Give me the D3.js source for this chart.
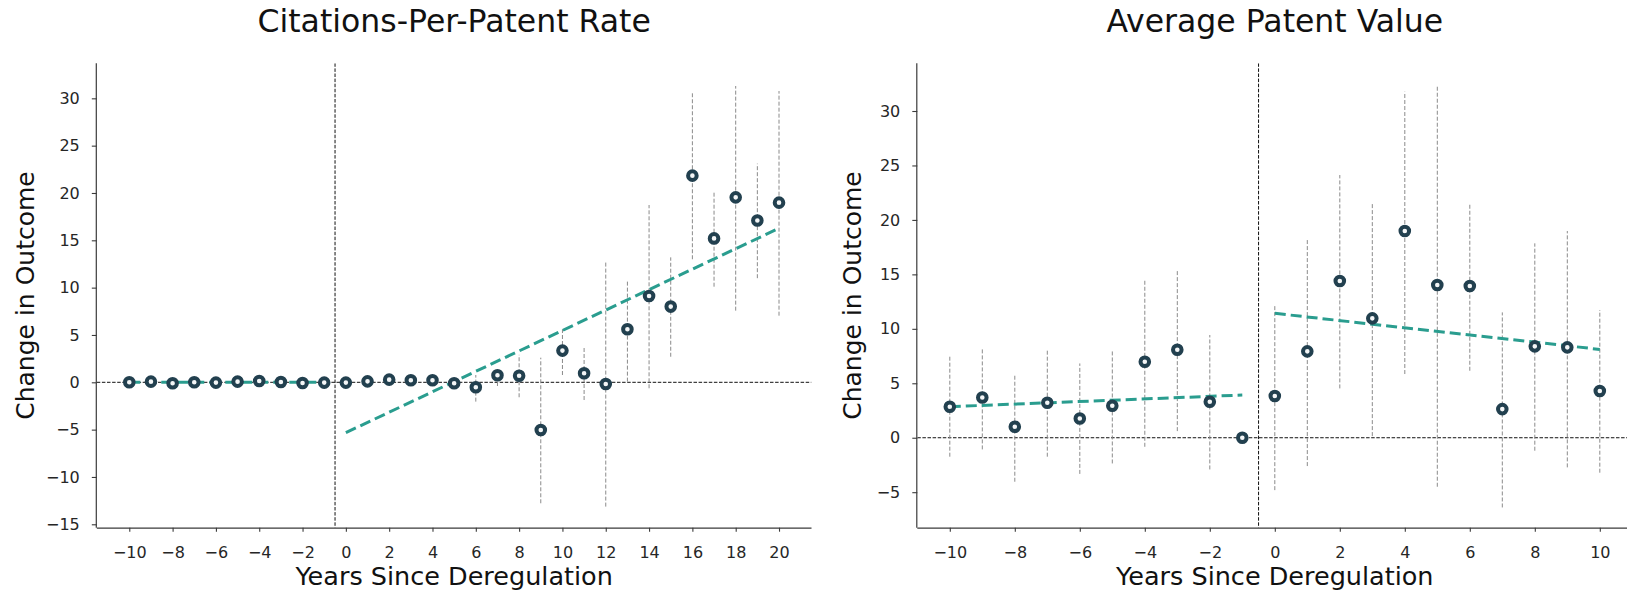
<!DOCTYPE html>
<html><head><meta charset="utf-8">
<script src="https://cdn.jsdelivr.net/npm/d3@7"></script>
<style>
body{margin:0;background:#fff;}
svg{display:block;font-family:"DejaVu Sans",sans-serif;}
</style>
</head><body>
<svg id="chart" width="1627" height="592"></svg>
<script>
// ---------- Panel 1: Citations-Per-Patent Rate ----------
const citYears  = [-10,-9,-8,-7,-6,-5,-4,-3,-2,-1,0,1,2,3,4,5,6,7,8,9,10,11,12,13,14,15,16,17,18,19,20];
const citValues = [0.0,0.07,-0.1,0.0,-0.03,0.07,0.14,0.03,-0.07,-0.03,-0.03,0.1,0.28,0.21,0.21,-0.1,-0.53,0.74,0.7,-5.04,3.35,0.95,-0.18,5.6,9.12,8.0,21.83,15.2,19.54,17.1,18.98];
const citLower  = [-0.1,-0.05,-0.2,-0.1,-0.12,-0.05,0.04,-0.07,-0.17,-0.13,-0.3,-0.2,-0.05,-0.15,-0.2,-0.5,-2.04,-0.39,-1.58,-12.78,0.77,-1.87,-13.13,0.07,-0.63,2.7,13.0,10.1,7.57,11.0,7.04];
const citUpper  = [0.1,0.19,0.0,0.1,0.06,0.19,0.24,0.13,0.03,0.07,0.24,0.4,0.6,0.57,0.62,0.3,0.77,1.48,2.9,2.6,5.6,3.7,12.75,10.8,18.73,13.2,30.53,20.1,31.3,23.1,30.77];
const citPreFitX  = [-10, -1];
const citPreFitY  = [0, 0];
const citPostFitX = [0, 20];
const citPostFitY = [-5.32, 16.27];
const citXTicks = [-10,-8,-6,-4,-2,0,2,4,6,8,10,12,14,16,18,20];
const citYTicks = [-15,-10,-5,0,5,10,15,20,25,30];

// ---------- Panel 2: Average Patent Value ----------
const valYears  = [-10,-9,-8,-7,-6,-5,-4,-3,-2,-1,0,1,2,3,4,5,6,7,8,9,10];
const valValues = [2.85,3.7,1.01,3.21,1.77,2.94,6.98,8.08,3.31,0.0,3.83,7.93,14.39,10.96,18.98,14.02,13.93,2.63,8.39,8.3,4.29];
const valLower  = [-1.74,-1.07,-4.04,-1.74,-3.32,-2.36,-0.83,0.61,-2.91,0.0,-4.81,-2.6,4.53,0.15,5.85,-4.5,6.15,-6.4,-1.19,-2.72,-3.21];
const valUpper  = [7.44,8.2,5.75,8.05,6.82,7.96,14.57,15.4,9.43,0.0,12.24,18.15,24.12,21.52,31.77,32.29,21.52,11.51,17.85,18.98,11.73];
const valPreFitX  = [-10, -1];
const valPreFitY  = [2.85, 3.92];
const valPostFitX = [0, 10];
const valPostFitY = [11.42, 8.11];
const valXTicks = [-10,-8,-6,-4,-2,0,2,4,6,8,10];
const valYTicks = [-5,0,5,10,15,20,25,30];

const titles = ["Citations-Per-Patent Rate", "Average Patent Value"];
const xLabel = "Years Since Deregulation";
const yLabel = "Change in Outcome";

// ---------- styles / layout ----------
const markerColor = "#22404f";
const fitColor = "#2a9d8f";
const errColor = "#8a8a8a";
const axisColor = "#3a3a3a";
const tickTextColor = "#262626";

const panels = [
  {title: titles[0], years: citYears, values: citValues, lower: citLower, upper: citUpper,
   fits: [[citPreFitX, citPreFitY], [citPostFitX, citPostFitY]],
   xTicks: citXTicks, yTicks: citYTicks,
   xDomain: [-11.5, 21.5], yDomain: [-15.36, 33.7],
   x0: 96.8, x1: 811.5, ylabX: 34},
  {title: titles[1], years: valYears, values: valValues, lower: valLower, upper: valUpper,
   fits: [[valPreFitX, valPreFitY], [valPostFitX, valPostFitY]],
   xTicks: valXTicks, yTicks: valYTicks,
   xDomain: [-11, 11], yDomain: [-8.26, 34.38],
   x0: 917.3, x1: 1632.3, ylabX: 861}
];
const yTop = 63.3, yBot = 527.7;

const svg = d3.select("#chart");

panels.forEach((p, i) => {
  const x = d3.scaleLinear().domain(p.xDomain).range([p.x0, p.x1]);
  const y = d3.scaleLinear().domain(p.yDomain).range([yBot, yTop]);
  const g = svg.append("g");
  const clipId = "clip" + i;
  svg.append("clipPath").attr("id", clipId).append("rect")
    .attr("x", p.x0).attr("y", yTop).attr("width", p.x1 - p.x0).attr("height", yBot - yTop);
  const plot = g.append("g").attr("clip-path", `url(#${clipId})`);

  // zero reference line
  plot.append("line")
    .attr("x1", p.x0).attr("x2", p.x1).attr("y1", y(0)).attr("y2", y(0))
    .attr("stroke", "#111").attr("stroke-width", 1).attr("stroke-dasharray", "3.5,1.6");
  // deregulation line
  plot.append("line")
    .attr("x1", x(-0.5)).attr("x2", x(-0.5)).attr("y1", yTop).attr("y2", yBot)
    .attr("stroke", "#111").attr("stroke-width", 1).attr("stroke-dasharray", "3.5,1.6");

  // error bars
  plot.selectAll(".err").data(p.years).enter().append("line")
    .attr("x1", d => x(d)).attr("x2", d => x(d))
    .attr("y1", (d, k) => y(p.lower[k])).attr("y2", (d, k) => y(p.upper[k]))
    .attr("stroke", errColor).attr("stroke-width", 1).attr("stroke-dasharray", "4,2");

  // fit lines
  const line = d3.line().x(d => x(d[0])).y(d => y(d[1]));
  p.fits.forEach(([fx, fy]) => {
    plot.append("path")
      .attr("d", line(fx.map((v, k) => [v, fy[k]])))
      .attr("fill", "none").attr("stroke", fitColor).attr("stroke-width", 3)
      .attr("stroke-dasharray", "11,5");
  });

  // markers
  plot.selectAll(".pt").data(p.years).enter().append("circle")
    .attr("cx", d => x(d)).attr("cy", (d, k) => y(p.values[k]))
    .attr("r", 4.3).attr("fill", "#f4f6f7")
    .attr("stroke", markerColor).attr("stroke-width", 4);

  // axes
  const xAxis = g.append("g").attr("transform", `translate(0,${yBot})`)
    .call(d3.axisBottom(x).tickValues(p.xTicks).tickSize(4).tickPadding(15).tickFormat(d3.format("")));
  const yAxis = g.append("g").attr("transform", `translate(${p.x0},0)`)
    .call(d3.axisLeft(y).tickValues(p.yTicks).tickSize(5).tickPadding(12).tickFormat(d3.format("")));
  [xAxis, yAxis].forEach(a => {
    a.select(".domain").attr("stroke", axisColor).attr("stroke-width", 1.2);
    a.selectAll(".tick line").attr("stroke", axisColor).attr("stroke-width", 1.1);
    a.selectAll(".tick text").attr("fill", tickTextColor)
      .style("font-size", "16px").style("font-family", "'DejaVu Sans', sans-serif");
  });
  xAxis.select(".domain").attr("d", `M${p.x0},0.5H${p.x1}`);
  yAxis.select(".domain").attr("d", `M-0.5,${yTop}V${yBot}`);

  // title
  svg.append("text").attr("x", (p.x0 + p.x1) / 2).attr("y", 32)
    .attr("text-anchor", "middle").attr("fill", "#111")
    .style("font-size", "31.5px").text(p.title);
  // x label
  svg.append("text").attr("x", (p.x0 + p.x1) / 2).attr("y", 585)
    .attr("text-anchor", "middle").attr("fill", "#111")
    .style("font-size", "25.5px").text(xLabel);
  // y label
  svg.append("text").attr("transform", `translate(${p.ylabX},${(yTop + yBot) / 2}) rotate(-90)`)
    .attr("text-anchor", "middle").attr("fill", "#111")
    .style("font-size", "25px").text(yLabel);
});
</script>
</body></html>
